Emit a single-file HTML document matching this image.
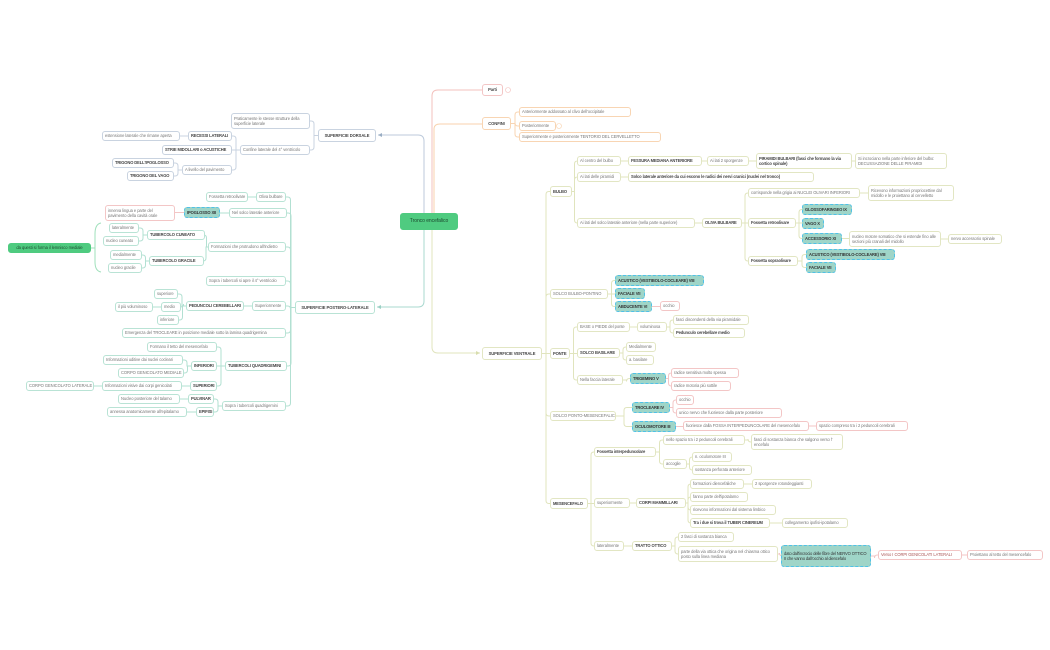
<!DOCTYPE html>
<html><head><meta charset="utf-8">
<style>
html,body{margin:0;padding:0;background:#fff;}
body{width:1050px;height:650px;position:relative;overflow:hidden;font-family:"Liberation Sans",sans-serif;}
svg{position:absolute;left:0;top:0;}
.n{position:absolute;box-sizing:border-box;border:1px solid;border-radius:3px;background:#fff;font-size:4.1px;color:#777;padding:0 2px;display:flex;align-items:center;line-height:5.2px;white-space:nowrap;overflow:hidden;letter-spacing:-0.05px;}
.w{white-space:normal;}
.B{font-weight:bold;color:#444;letter-spacing:-0.12px;}
.b{border-color:#c9d3e0;}
.t{border-color:#b9e3d5;}
.p{border-color:#f3c6c6;}
.o{border-color:#f8d5b3;}
.v{border-color:#e2e6c3;}
.h{background:#9fd5c8;border:1.5px dashed #4fc1e8;color:#333;font-weight:bold;letter-spacing:-0.12px;}
.g{background:#4fcb80;border-color:#4fcb80;color:#1c4a2e;justify-content:center;}
.big{border-width:1.3px;font-weight:bold;color:#444;justify-content:center;}
</style></head><body>
<svg id="s" width="1050" height="650">
<g fill="none" stroke-width="1">
<path d="M432 214 V96 Q432 90 438 90 H482" stroke="#f3c0bc"/>
<path d="M434 214 V129 Q434 124 440 124 H482" stroke="#f8d2ad"/>
<path d="M424 214 V141 Q424 135 418 135 H378" stroke="#bccadb"/>
<path d="M424 230 V301 Q424 307 418 307 H377" stroke="#a9d8cf"/>
<path d="M432 230 V347 Q432 353 438 353 H480" stroke="#e0e4bd"/>
<path d="M101 223 Q95 224 95 234 V262 Q95 271 101 272 M95 248 H91" stroke="#9fe0bb"/>
</g>
<g fill="#9aaec4"><path d="M378 135 l4 -2 v4z"/></g>
<g fill="#9bd0c4"><path d="M377 307 l4 -2 v4z"/></g>
<g fill="#d8ddae"><path d="M480 353 l-4 -2 v4z"/></g>
<circle cx="508" cy="90" r="2.5" fill="none" stroke="#f3c0bc" stroke-width=".6"/>
<circle cx="559" cy="126" r="2.5" fill="none" stroke="#f8d2ad" stroke-width=".6"/>
</svg>

<div class="n g" id="root" style="left:400px;top:213px;width:58px;height:17px;font-size:5px">Tronco encefalico</div>

<div class="n p big" id="parti" style="left:482px;top:84px;width:21px;height:12px">Parti</div>
<div class="n o big" id="conf" style="left:482px;top:117px;width:29px;height:13px">CONFINI</div>
<div class="n o" id="c1" style="left:519px;top:107px;width:112px;height:10px">Anteriormente addossato al clivo dell'occipitale</div>
<div class="n o" id="c2" style="left:519px;top:121px;width:37px;height:10px">Posteriormente</div>
<div class="n o" id="c3" style="left:519px;top:132px;width:142px;height:10px">Superiormente e posteriormente TENTORIO DEL CERVELLETTO</div>

<div class="n v big" id="sv" style="left:482px;top:347px;width:60px;height:13px">SUPERFICIE VENTRALE</div>
<div class="n v B" id="bul" style="left:550px;top:186px;width:22px;height:11px">BULBO</div>
<div class="n v" id="bu1" style="left:577px;top:156px;width:44px;height:10px">Al centro del bulbo</div>
<div class="n v B" id="bu1a" style="left:628px;top:156px;width:74px;height:10px">FESSURA MEDIANA ANTERIORE</div>
<div class="n v" id="bu1b" style="left:707px;top:156px;width:42px;height:10px">Ai lati 2 sporgenze</div>
<div class="n v w B" id="bu1c" style="left:756px;top:153px;width:96px;height:16px">PIRAMIDI BULBARI (fasci che formano la via cortico spinale)</div>
<div class="n v w" id="bu1d" style="left:855px;top:153px;width:92px;height:16px">Si incrociano nella parte inferiore del bulbo: DECUSSAZIONE DELLE PIRAMIDI</div>
<div class="n v" id="bu2" style="left:577px;top:172px;width:44px;height:10px">Ai lati delle piramidi</div>
<div class="n v B" id="bu2a" style="left:628px;top:172px;width:186px;height:10px">Solco laterale anteriore da cui escono le radici dei nervi cranici (nuclei nel tronco)</div>
<div class="n v" id="bu3" style="left:577px;top:218px;width:118px;height:10px">Ai lati del solco laterale anteriore (nella parte superiore)</div>
<div class="n v B" id="ol" style="left:702px;top:218px;width:40px;height:10px">OLIVA BULBARE</div>
<div class="n v" id="ol1" style="left:748px;top:188px;width:112px;height:10px">corrisponde nella grigia ai NUCLEI OLIVARI INFERIORI</div>
<div class="n v w" id="ol1a" style="left:868px;top:185px;width:86px;height:16px">Ricevono informazioni propriocettive dal midollo e le proiettano al cervelletto</div>
<div class="n v B" id="ol2" style="left:748px;top:218px;width:48px;height:10px">Fossetta retroolivare</div>
<div class="n h" id="gl" style="left:802px;top:204px;width:50px;height:11px">GLOSSOFARINGEO IX</div>
<div class="n h" id="va" style="left:802px;top:218px;width:22px;height:11px">VAGO X</div>
<div class="n h" id="ac" style="left:802px;top:233px;width:40px;height:11px">ACCESSORIO XI</div>
<div class="n v w" id="ac1" style="left:849px;top:231px;width:92px;height:16px">nucleo motore somatico che si estende fino alle sezioni più cranali del midollo</div>
<div class="n v" id="ac2" style="left:948px;top:234px;width:54px;height:10px">nervo accessorio spinale</div>
<div class="n v B" id="ol3" style="left:748px;top:256px;width:50px;height:10px">Fossetta sopraolivare</div>
<div class="n h" id="ak" style="left:806px;top:249px;width:89px;height:11px">ACUSTICO (VESTIBOLO-COCLEARE) VIII</div>
<div class="n h" id="fa" style="left:806px;top:262px;width:30px;height:11px">FACIALE VII</div>

<div class="n v" id="sbp" style="left:550px;top:289px;width:58px;height:10px">SOLCO BULBO-PONTINO</div>
<div class="n h" id="ak2" style="left:615px;top:275px;width:89px;height:11px">ACUSTICO (VESTIBOLO-COCLEARE) VIII</div>
<div class="n h" id="fa2" style="left:615px;top:288px;width:30px;height:11px">FACIALE VII</div>
<div class="n h" id="ab" style="left:615px;top:301px;width:37px;height:11px">ABDUCENTE VI</div>
<div class="n p" id="ab1" style="left:660px;top:301px;width:20px;height:10px">occhio</div>

<div class="n v B" id="po" style="left:550px;top:348px;width:20px;height:11px">PONTE</div>
<div class="n v" id="po1" style="left:577px;top:322px;width:53px;height:10px">BASE o PIEDE del ponte</div>
<div class="n v" id="po1a" style="left:637px;top:322px;width:30px;height:10px">voluminosa</div>
<div class="n v" id="po1b" style="left:673px;top:315px;width:76px;height:10px">fasci discendenti della via piramidale</div>
<div class="n v B" id="po1c" style="left:673px;top:328px;width:72px;height:10px">Pedunculo cerebellare medio</div>
<div class="n v B" id="po2" style="left:577px;top:348px;width:43px;height:10px">SOLCO BASILARE</div>
<div class="n v" id="po2a" style="left:626px;top:342px;width:30px;height:10px">Medialmente</div>
<div class="n v" id="po2b" style="left:626px;top:355px;width:28px;height:10px">a. basilare</div>
<div class="n v" id="po3" style="left:577px;top:375px;width:46px;height:10px">Nella faccia laterale</div>
<div class="n h" id="tr" style="left:630px;top:373px;width:36px;height:11px">TRIGEMINO V</div>
<div class="n p" id="tr1" style="left:671px;top:368px;width:68px;height:10px">radice sensitiva molto spessa</div>
<div class="n p" id="tr2" style="left:671px;top:381px;width:60px;height:10px">radice motoria più sottile</div>

<div class="n v" id="spm" style="left:550px;top:411px;width:66px;height:10px">SOLCO PONTO-MESENCEFALICO</div>
<div class="n h" id="tc" style="left:632px;top:402px;width:38px;height:11px">TROCLEARE IV</div>
<div class="n p" id="tc1" style="left:676px;top:395px;width:18px;height:10px">occhio</div>
<div class="n p" id="tc2" style="left:676px;top:408px;width:106px;height:10px">unico nervo che fuoriesce dalla parte posteriore</div>
<div class="n h" id="oc" style="left:632px;top:421px;width:44px;height:11px">OCULOMOTORE III</div>
<div class="n p" id="oc1" style="left:683px;top:421px;width:126px;height:10px">fuoriesce dalla FOSSA INTERPEDUNCOLARE del mesencefalo</div>
<div class="n p" id="oc2" style="left:816px;top:421px;width:92px;height:10px">spazio compreso tra i 2 peduncoli cerebrali</div>

<div class="n v B" id="me" style="left:550px;top:498px;width:38px;height:11px">MESENCEFALO</div>
<div class="n v B" id="me1" style="left:594px;top:447px;width:62px;height:10px">Fossetta interpeduncolare</div>
<div class="n v" id="me1a" style="left:663px;top:435px;width:82px;height:10px">nello spazio tra i 2 peduncoli cerebrali</div>
<div class="n v w" id="me1b" style="left:751px;top:434px;width:92px;height:16px">fasci di sostanza bianca che salgono verso l' encefalo</div>
<div class="n v" id="me1c" style="left:663px;top:459px;width:24px;height:10px">accoglie</div>
<div class="n v" id="me1d" style="left:692px;top:452px;width:40px;height:10px">n. oculomotore III</div>
<div class="n v" id="me1e" style="left:692px;top:465px;width:60px;height:10px">sostanza perforata anteriore</div>
<div class="n v" id="me2" style="left:594px;top:498px;width:36px;height:10px">superiormente</div>
<div class="n v B" id="cm" style="left:636px;top:498px;width:50px;height:10px">CORPI MAMMILLARI</div>
<div class="n v" id="cm1" style="left:690px;top:479px;width:54px;height:10px">formazioni diencefaliche</div>
<div class="n v" id="cm1a" style="left:752px;top:479px;width:60px;height:10px">2 sporgenze rotondeggianti</div>
<div class="n v" id="cm2" style="left:690px;top:492px;width:58px;height:10px">fanno parte dell'ipotalamo</div>
<div class="n v" id="cm3" style="left:690px;top:505px;width:86px;height:10px">ricevono informazioni dal sistema limbico</div>
<div class="n v B" id="cm4" style="left:690px;top:518px;width:80px;height:10px">Tra i due si trova il TUBER CINEREUM</div>
<div class="n v" id="cm4a" style="left:782px;top:518px;width:66px;height:10px">collegamento ipofisi-ipotalamo</div>
<div class="n v" id="me3" style="left:594px;top:541px;width:30px;height:10px">lateralmente</div>
<div class="n v B" id="to" style="left:632px;top:541px;width:40px;height:10px">TRATTO OTTICO</div>
<div class="n v" id="to1" style="left:678px;top:532px;width:56px;height:10px">2 fasci di sostanza bianca</div>
<div class="n v w" id="to2" style="left:678px;top:546px;width:100px;height:16px">parte della via ottica che origina nel chiasma ottico posto sulla linea mediana</div>
<div class="n h w" id="to3" style="left:781px;top:545px;width:90px;height:22px;font-weight:normal">dato dall'incrocio delle fibre del NERVO OTTICO II che vanno dall'occhio al diencefalo</div>
<div class="n p" id="to4" style="left:878px;top:550px;width:84px;height:10px;color:#a55">Verso I CORPI GENICOLATI LATERALI</div>
<div class="n p" id="to5" style="left:967px;top:550px;width:76px;height:10px">Proiettano al tetto del mesencefalo</div>

<div class="n b big" id="sd" style="left:318px;top:129px;width:58px;height:13px">SUPERFICIE DORSALE</div>
<div class="n b w" id="sd1" style="left:231px;top:113px;width:79px;height:16px">Praticamente le stesse strutture della superficie laterale</div>
<div class="n b" id="sd2" style="left:240px;top:145px;width:70px;height:10px">Confine laterale del 4° ventricolo</div>
<div class="n b B" id="re" style="left:188px;top:131px;width:44px;height:10px">RECESSI LATERALI</div>
<div class="n b" id="re1" style="left:102px;top:131px;width:78px;height:10px">estensione laterale che rimane aperta</div>
<div class="n b B" id="st" style="left:162px;top:145px;width:70px;height:10px">STRIE MIDOLLARI o ACUSTICHE</div>
<div class="n b" id="al" style="left:182px;top:165px;width:50px;height:10px">A livello del pavimento</div>
<div class="n b B" id="ti" style="left:112px;top:158px;width:62px;height:10px">TRIGONO DELL'IPOGLOSSO</div>
<div class="n b B" id="tv" style="left:127px;top:171px;width:47px;height:10px">TRIGONO DEL VAGO</div>

<div class="n t big" id="sp" style="left:295px;top:301px;width:80px;height:13px">SUPERFICIE POSTERO-LATERALE</div>
<div class="n t" id="ob" style="left:256px;top:192px;width:30px;height:10px">Oliva bulbare</div>
<div class="n t" id="ob1" style="left:206px;top:192px;width:42px;height:10px">Fossetta retroolivare</div>
<div class="n t" id="ns" style="left:229px;top:208px;width:58px;height:10px">Nel solco laterale anteriore</div>
<div class="n h" id="ip" style="left:184px;top:207px;width:36px;height:11px">IPOGLOSSO XII</div>
<div class="n p w" id="ip1" style="left:105px;top:205px;width:70px;height:16px">innerva lingua e parte del pavimento della cavità orale</div>
<div class="n t" id="fp" style="left:208px;top:242px;width:78px;height:10px">Formazioni che protrudono all'indietro</div>
<div class="n t B" id="tcu" style="left:147px;top:230px;width:58px;height:10px">TUBERCOLO CUNEATO</div>
<div class="n t" id="tcu1" style="left:109px;top:223px;width:30px;height:10px">lateralmente</div>
<div class="n t" id="tcu2" style="left:103px;top:236px;width:36px;height:10px">nucleo cuneato</div>
<div class="n t B" id="tg" style="left:149px;top:256px;width:55px;height:10px">TUBERCOLO GRACILE</div>
<div class="n t" id="tg1" style="left:110px;top:250px;width:32px;height:10px">medialmente</div>
<div class="n t" id="tg2" style="left:108px;top:263px;width:34px;height:10px">nucleo gracile</div>
<div class="n g" id="lm" style="left:8px;top:243px;width:83px;height:10px">da questi si forma il lemnisco mediale</div>
<div class="n t" id="s4" style="left:206px;top:276px;width:80px;height:10px">Sopra i tubercoli si apre il 4° ventricolo</div>
<div class="n t" id="su" style="left:252px;top:301px;width:34px;height:10px">Superiormente</div>
<div class="n t B" id="pc" style="left:186px;top:301px;width:58px;height:10px">PEDUNCOLI CEREBELLARI</div>
<div class="n t" id="pc1" style="left:154px;top:289px;width:24px;height:10px">superiore</div>
<div class="n t" id="pc2" style="left:161px;top:302px;width:20px;height:10px">medio</div>
<div class="n t" id="pc2a" style="left:115px;top:302px;width:38px;height:10px">il più voluminoso</div>
<div class="n t" id="pc3" style="left:157px;top:315px;width:22px;height:10px">inferiore</div>
<div class="n t" id="em" style="left:122px;top:328px;width:164px;height:10px">Emergenza del TROCLEARE in posizione mediale sotto la lamina quadrigemina</div>
<div class="n t B" id="tq" style="left:225px;top:361px;width:62px;height:10px">TUBERCOLI QUADRIGEMINI</div>
<div class="n t" id="tq1" style="left:147px;top:342px;width:70px;height:10px">Formano il tetto del mesencefalo</div>
<div class="n t B" id="inf" style="left:191px;top:361px;width:26px;height:10px">INFERIORI</div>
<div class="n t" id="inf1" style="left:103px;top:355px;width:80px;height:10px">Informazioni uditive dai nuclei cocleari</div>
<div class="n t" id="inf2" style="left:118px;top:368px;width:66px;height:10px">CORPO GENICOLATO MEDIALE</div>
<div class="n t B" id="sup" style="left:190px;top:381px;width:27px;height:10px">SUPERIORI</div>
<div class="n t" id="sup1" style="left:102px;top:381px;width:80px;height:10px">Informazioni visive dai corpi genicolati</div>
<div class="n t" id="sup2" style="left:26px;top:381px;width:68px;height:10px">CORPO GENICOLATO LATERALE</div>
<div class="n t" id="stq" style="left:222px;top:401px;width:64px;height:10px">Sopra i tubercoli quadrigemini</div>
<div class="n t B" id="pu" style="left:188px;top:394px;width:26px;height:10px">PULVINAR</div>
<div class="n t" id="pu1" style="left:118px;top:394px;width:62px;height:10px">Nucleo posteriore del talamo</div>
<div class="n t B" id="ep" style="left:196px;top:407px;width:18px;height:10px">EPIFISI</div>
<div class="n t" id="ep1" style="left:107px;top:407px;width:80px;height:10px">annessa anatomicamente all'epitalamo</div>

<script>
var E={o:"#f8d5b3",v:"#e0e4bd",p:"#f3c6c6",b:"#c9d3e0",t:"#b2e0d2"};
var L=[
["conf","c1","o"],["conf","c2","o"],["conf","c3","o"],
["sv","bul","v"],["sv","sbp","v"],["sv","po","v"],["sv","spm","v"],["sv","me","v"],
["bul","bu1","v"],["bul","bu2","v"],["bul","bu3","v"],["bu1","bu1a","v"],["bu1a","bu1b","v"],["bu1b","bu1c","v"],["bu1c","bu1d","v"],["bu2","bu2a","v"],["bu3","ol","v"],
["ol","ol1","v"],["ol","ol2","v"],["ol","ol3","v"],["ol1","ol1a","v"],["ol2","gl","v"],["ol2","va","v"],["ol2","ac","v"],["ac","ac1","v"],["ac1","ac2","v"],["ol3","ak","v"],["ol3","fa","v"],
["sbp","ak2","v"],["sbp","fa2","v"],["sbp","ab","v"],["ab","ab1","p"],
["po","po1","v"],["po","po2","v"],["po","po3","v"],["po1","po1a","v"],["po1a","po1b","v"],["po1a","po1c","v"],["po2","po2a","v"],["po2","po2b","v"],["po3","tr","v"],["tr","tr1","p"],["tr","tr2","p"],
["spm","tc","v"],["spm","oc","v"],["tc","tc1","p"],["tc","tc2","p"],["oc","oc1","p"],["oc1","oc2","p"],
["me","me1","v"],["me","me2","v"],["me","me3","v"],["me1","me1a","v"],["me1","me1c","v"],["me1a","me1b","v"],["me1c","me1d","v"],["me1c","me1e","v"],
["me2","cm","v"],["cm","cm1","v"],["cm","cm2","v"],["cm","cm3","v"],["cm","cm4","v"],["cm1","cm1a","v"],["cm4","cm4a","v"],
["me3","to","v"],["to","to1","v"],["to","to2","v"],["to2","to3","p"],["to3","to4","p"],["to4","to5","p"],
["sd","sd1","b"],["sd","sd2","b"],["sd2","re","b"],["sd2","st","b"],["sd2","al","b"],["re","re1","b"],["al","ti","b"],["al","tv","b"],
["sp","ob","t"],["sp","ns","t"],["sp","fp","t"],["sp","s4","t"],["sp","su","t"],["sp","em","t"],["sp","tq","t"],["sp","stq","t"],
["ob","ob1","t"],["ns","ip","t"],["ip","ip1","p"],["fp","tcu","t"],["fp","tg","t"],["tcu","tcu1","t"],["tcu","tcu2","t"],["tg","tg1","t"],["tg","tg2","t"],
["su","pc","t"],["pc","pc1","t"],["pc","pc2","t"],["pc","pc3","t"],["pc2","pc2a","t"],
["tq","tq1","t"],["tq","inf","t"],["tq","sup","t"],["inf","inf1","t"],["inf","inf2","t"],["sup","sup1","t"],["sup1","sup2","t"],
["stq","pu","t"],["stq","ep","t"],["pu","pu1","t"],["ep","ep1","t"]];
var s=document.getElementById("s");
function r(id){var e=document.getElementById(id);return {x:e.offsetLeft,y:e.offsetTop,w:e.offsetWidth,h:e.offsetHeight};}
var out="";
L.forEach(function(l){var a=r(l[0]),b=r(l[1]);var ay=a.y+a.h/2,by=b.y+b.h/2,p;
if(b.x>a.x){var x1=a.x+a.w,x2=b.x,xm=x1+(x2-x1)/2;
 p=Math.abs(ay-by)<1?"M"+x1+" "+ay+"H"+x2:"M"+x1+" "+ay+"H"+xm+"V"+(by+(by>ay?-3:3))+"Q"+xm+" "+by+" "+(xm+3)+" "+by+"H"+x2;}
else{var x1=a.x,x2=b.x+b.w,xm=x2+(x1-x2)/2;
 p=Math.abs(ay-by)<1?"M"+x1+" "+ay+"H"+x2:"M"+x1+" "+ay+"H"+xm+"V"+(by+(by>ay?-3:3))+"Q"+xm+" "+by+" "+(xm-3)+" "+by+"H"+x2;}
out+='<path d="'+p+'" fill="none" stroke="'+E[l[2]]+'" stroke-width="1"/>';});
s.insertAdjacentHTML("beforeend",out);
</script>
</body></html>
